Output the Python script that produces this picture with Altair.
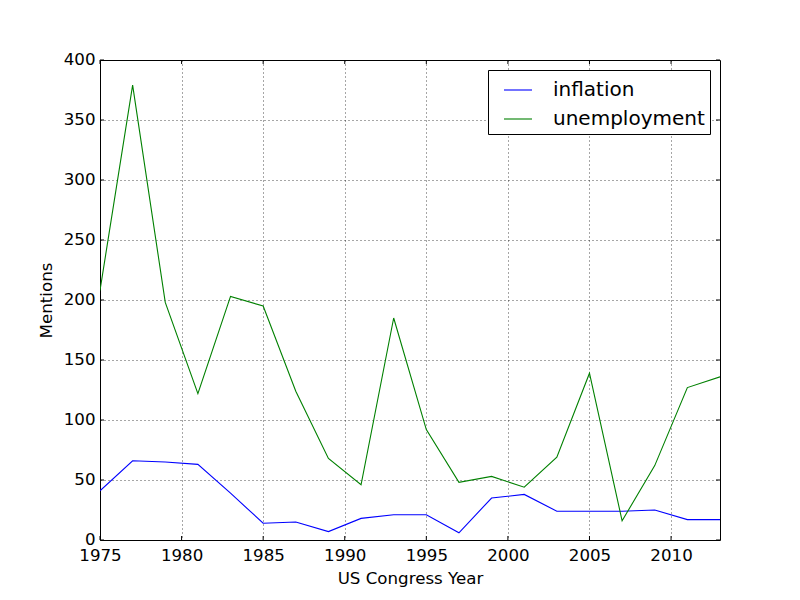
import altair as alt
import pandas as pd

years = [1975, 1977, 1979, 1981, 1983, 1985, 1987, 1989, 1991, 1993,
         1995, 1997, 1999, 2001, 2003, 2005, 2007, 2009, 2011, 2013]
inflation = [41, 66, 65, 63, 39, 14, 15, 7, 18, 21,
             21, 6, 35, 38, 24, 24, 24, 25, 17, 17]
unemployment = [208, 379, 198, 122, 203, 195, 124, 68, 46, 185,
                92, 48, 53, 44, 69, 139, 16, 62, 127, 136]
series_names = ["inflation", "unemployment"]
series_colors = ["#0000ff", "#008000"]
x_ticks = [1975, 1980, 1985, 1990, 1995, 2000, 2005, 2010]
y_ticks = [0, 50, 100, 150, 200, 250, 300, 350, 400]

rows = []
for i, yr in enumerate(years):
    rows.append({"year": yr, "series": "inflation", "mentions": inflation[i]})
    rows.append({"year": yr, "series": "unemployment", "mentions": unemployment[i]})
df = pd.DataFrame(rows)
xt = pd.DataFrame({"t": x_ticks})
yt = pd.DataFrame({"t": y_ticks})

W, H = 620, 480
FS = 16.67
xscale = alt.Scale(domain=[1975, 2013], nice=False, zero=False)
yscale = alt.Scale(domain=[0, 400], nice=False)

axis_common = dict(grid=True, tickSize=0, domain=False, labelFlush=False,
                   gridColor="black", gridDash=[1, 3], gridWidth=0.7, gridOpacity=1,
                   labelFont="DejaVu Sans", labelFontSize=FS, labelColor="black",
                   titleFont="DejaVu Sans", titleFontSize=FS, titleFontWeight="normal",
                   titleColor="black", labelOverlap=False)

lines = alt.Chart(df).mark_line(strokeWidth=1.1, clip=True).encode(
    x=alt.X("year:Q", scale=xscale, title="US Congress Year",
            axis=alt.Axis(values=x_ticks, format="d", labelPadding=7,
                          titlePadding=7, **axis_common)),
    y=alt.Y("mentions:Q", scale=yscale, title="Mentions",
            axis=alt.Axis(values=y_ticks, labelPadding=5, labelOffset=-1,
                          titlePadding=8, **axis_common)),
    color=alt.Color("series:N",
                    scale=alt.Scale(domain=series_names, range=series_colors),
                    legend=alt.Legend(title=None, orient="none", legendX=388, legendY=10,
                                      symbolType="stroke", symbolSize=784,
                                      symbolStrokeWidth=1.1, labelFontSize=20,
                                      labelOffset=20, padding=5, symbolOffset=10,
                                      rowPadding=4, strokeColor="black",
                                      fillColor="white", cornerRadius=0,
                                      labelFont="DejaVu Sans", labelColor="black")),
)

tick_len = 4
xb = alt.Chart(xt).mark_rule(color="black", strokeWidth=1).encode(
    x=alt.X("t:Q", scale=xscale), y=alt.value(H), y2=alt.value(H - tick_len))
xtop = alt.Chart(xt).mark_rule(color="black", strokeWidth=1).encode(
    x=alt.X("t:Q", scale=xscale), y=alt.value(0), y2=alt.value(tick_len))
yl = alt.Chart(yt).mark_rule(color="black", strokeWidth=1).encode(
    y=alt.Y("t:Q", scale=yscale), x=alt.value(0), x2=alt.value(tick_len))
yr_ = alt.Chart(yt).mark_rule(color="black", strokeWidth=1).encode(
    y=alt.Y("t:Q", scale=yscale), x=alt.value(W), x2=alt.value(W - tick_len))

chart = alt.layer(xb, xtop, yl, yr_, lines).properties(
    width=W, height=H,
    background="white",
    autosize=alt.AutoSizeParams(type="none"),
    padding={"left": 92, "top": 52, "right": 72, "bottom": 52},
).configure_view(
    stroke="black", strokeWidth=1
)

chart.save("out.html", embed_options={"renderer": "svg", "actions": False})
